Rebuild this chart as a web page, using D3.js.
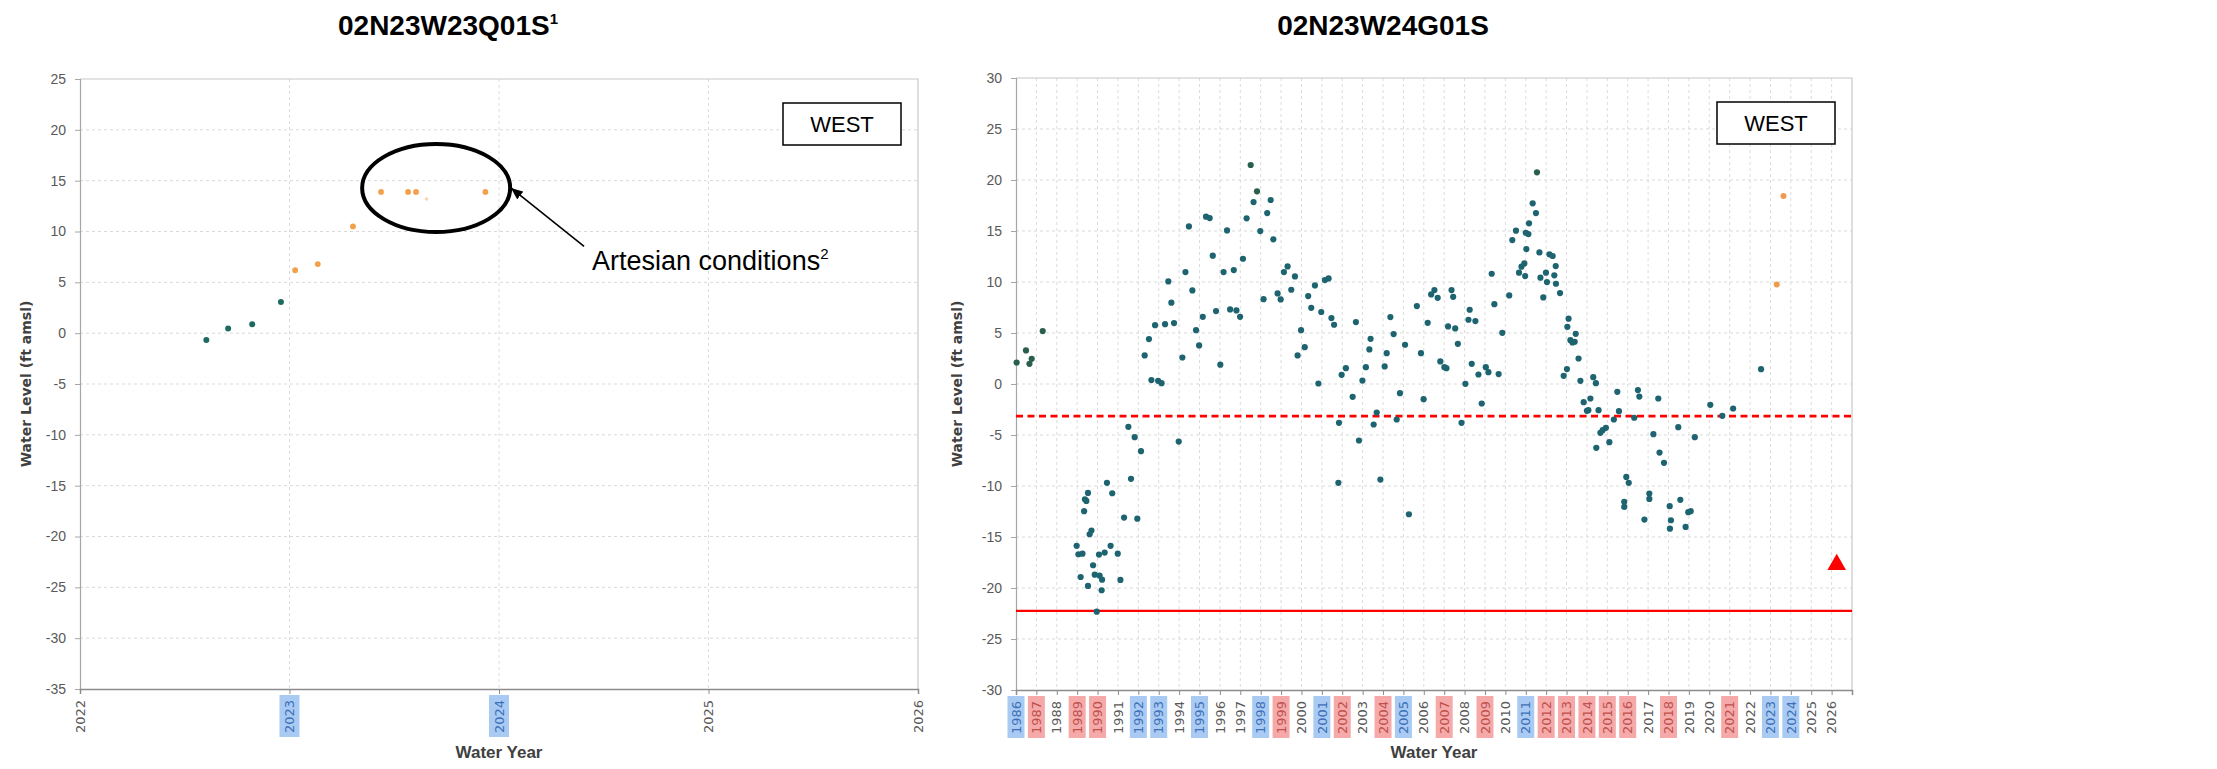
<!DOCTYPE html>
<html>
<head>
<meta charset="utf-8">
<script src="https://cdn.jsdelivr.net/npm/d3@7"></script>
<style>
  html, body { margin: 0; padding: 0; background: #ffffff; }
  svg { display: block; }
</style>
</head>
<body>
<svg id="chart" width="2217" height="769"></svg>
<script>
// ---------------- DATA ----------------
// Left well: 02N23W23Q01S
const leftTitle = "02N23W23Q01S";
const leftTealDates  = [2022.603, 2022.707, 2022.822, 2022.959];
const leftTealLevels = [-0.67, 0.45, 0.87, 3.07];
const leftOrangeDates  = [2023.027, 2023.135, 2023.303, 2023.437, 2023.566, 2023.604, 2023.935];
const leftOrangeLevels = [6.19, 6.80, 10.50, 13.89, 13.89, 13.89, 13.89];
const leftFaintDates  = [2023.654];
const leftFaintLevels = [13.2];
const leftYearTicks = [2022, 2023, 2024, 2025, 2026];
const leftLevelTicks = [-35, -30, -25, -20, -15, -10, -5, 0, 5, 10, 15, 20, 25];
const leftWetYears = [2023, 2024];
const leftDryYears = [];

// Right well: 02N23W24G01S
const rightTitle = "02N23W24G01S";
const rightGreenDates  = [1986.03, 1986.49, 1986.66, 1986.77, 1987.31, 1997.51, 1997.82, 2011.55];
const rightGreenLevels = [2.11, 3.29, 1.98, 2.47, 5.19, 21.47, 18.89, 20.75];
const rightDates = [
  1988.975, 1989.06, 1989.17, 1989.26, 1989.34, 1989.38, 1989.45, 1989.53, 1989.53, 1989.61,
  1989.70, 1989.78, 1989.86, 1989.96, 1990.07, 1990.10, 1990.20, 1990.22, 1990.35, 1990.46,
  1990.64, 1990.72, 1990.99, 1991.12, 1991.30, 1991.51, 1991.64, 1991.82, 1991.95, 1992.13,
  1992.31, 1992.52, 1992.64, 1992.82, 1992.97, 1993.14, 1993.31, 1993.47, 1993.62, 1993.75,
  1993.98, 1994.16, 1994.31, 1994.48, 1994.65, 1994.83, 1994.98, 1995.16, 1995.32, 1995.50,
  1995.65, 1995.81, 1996.02, 1996.18, 1996.35, 1996.50, 1996.68, 1996.81, 1996.99, 1997.13,
  1997.31, 1997.65, 1997.98, 1998.14, 1998.32, 1998.49, 1998.62, 1998.83, 1998.98, 1999.14,
  1999.32, 1999.50, 1999.68, 1999.81, 1999.98, 2000.16, 2000.33, 2000.48, 2000.66, 2000.83,
  2000.97, 2001.15, 2001.33, 2001.47, 2001.60, 2001.81, 2001.84, 2001.97, 2002.18, 2002.51,
  2002.67, 2002.82, 2002.99, 2003.16, 2003.33, 2003.39, 2003.54, 2003.69, 2003.87, 2004.08,
  2004.18, 2004.36, 2004.52, 2004.67, 2004.83, 2005.08, 2005.27, 2005.66, 2005.86, 2005.99,
  2006.19, 2006.36, 2006.52, 2006.68, 2006.81, 2007.01, 2007.11, 2007.19, 2007.36, 2007.44,
  2007.54, 2007.67, 2007.85, 2008.04, 2008.19, 2008.25, 2008.35, 2008.53, 2008.68, 2008.84,
  2009.04, 2009.17, 2009.33, 2009.46, 2009.67, 2009.85, 2010.19, 2010.34, 2010.52, 2010.67,
  2010.79, 2010.93, 2010.97, 2011.00, 2011.03, 2011.13, 2011.16, 2011.34, 2011.50, 2011.67,
  2011.72, 2011.86, 2011.99, 2012.04, 2012.16, 2012.32, 2012.40, 2012.47, 2012.48, 2012.68,
  2012.86, 2013.02, 2013.04, 2013.10, 2013.19, 2013.29, 2013.40, 2013.45, 2013.59, 2013.68,
  2013.84, 2014.00, 2014.07, 2014.17, 2014.31, 2014.44, 2014.46, 2014.57, 2014.66, 2014.77,
  2014.93, 2015.10, 2015.32, 2015.49, 2015.57, 2015.83, 2015.83, 2015.93, 2016.05, 2016.32,
  2016.50, 2016.57, 2016.82, 2017.06, 2017.06, 2017.26, 2017.50, 2017.56, 2017.78, 2018.06,
  2018.07, 2018.12, 2018.48, 2018.58, 2018.84, 2018.97, 2019.09, 2019.29, 2020.05, 2020.64,
  2021.17, 2022.54
];
const rightLevels = [
  -15.87, -16.69, -18.92, -16.63, -12.47, -11.30, -11.46, -10.68, -19.80, -14.73,
  -14.37, -17.77, -18.69, -22.32, -16.72, -18.78, -20.22, -19.18, -16.53, -9.69,
  -15.87, -10.71, -16.63, -19.21, -13.10, -4.20, -9.30, -5.21, -13.20, -6.59,
  2.80, 4.40, 0.38, 5.77, 0.31, 0.08, 5.87, 10.06, 7.97, 5.97,
  -5.64, 2.60, 10.97, 15.45, 9.17, 5.28, 3.78, 6.59, 16.40, 16.27,
  12.58, 7.15, 1.89, 10.97, 15.06, 7.31, 11.17, 7.21, 6.59, 12.28,
  16.24, 17.84, 14.99, 8.32, 16.76, 18.04, 14.18, 8.88, 8.29, 10.97,
  11.53, 9.24, 10.55, 2.80, 5.28, 3.61, 8.62, 7.47, 9.66, 0.05,
  7.06, 10.19, 10.35, 6.46, 5.81, -9.69, -3.81, 0.90, 1.55, -1.26,
  6.07, -5.54, 0.34, 1.65, 3.39, 4.43, -3.97, -2.80, -9.37, 1.72,
  3.02, 6.56, 4.89, -3.48, -0.90, 3.85, -12.77, 7.64, 3.02, -1.49,
  6.00, 8.78, 9.21, 8.45, 2.21, 1.65, 1.55, 5.64, 9.21, 8.55,
  5.45, 3.94, -3.81, 0.02, 6.30, 7.28, 1.98, 6.17, 0.93, -1.91,
  1.65, 1.16, 10.81, 7.83, 0.97, 5.02, 8.68, 14.11, 15.03, 10.91,
  11.50, 11.82, 10.58, 14.83, 13.23, 14.70, 15.75, 17.71, 16.76, 12.90,
  10.42, 8.49, 10.91, 9.99, 12.71, 12.55, 10.65, 11.56, 9.83, 8.91,
  0.80, 1.46, 5.61, 6.40, 4.30, 4.07, 4.14, 4.92, 2.50, 0.31,
  -1.78, -2.63, -2.57, -1.42, 0.67, 0.08, -6.26, -2.57, -4.79, -4.53,
  -4.30, -5.70, -3.48, -0.77, -2.66, -11.55, -12.05, -9.11, -9.69, -3.31,
  -0.60, -1.23, -13.29, -10.74, -11.27, -4.92, -1.42, -6.72, -7.73, -11.98,
  -14.18, -13.36, -4.23, -11.36, -14.01, -12.57, -12.47, -5.21, -2.04, -3.12,
  -2.40, 1.45
];
const rightOrangeDates  = [2023.31, 2023.64];
const rightOrangeLevels = [9.76, 18.43];
const rightDashedThreshold = -3.15;
const rightSolidThreshold  = -22.25;
const rightTargetDates  = [2026.25];
const rightTargetLevels = [-17.7];
const rightYearTicks = d3.range(1986, 2027);
const rightLevelTicks = [-30, -25, -20, -15, -10, -5, 0, 5, 10, 15, 20, 25, 30];
const rightWetYears = [1986, 1992, 1993, 1995, 1998, 2001, 2005, 2011, 2023, 2024];
const rightDryYears = [1987, 1989, 1990, 1999, 2002, 2004, 2007, 2009, 2012, 2013, 2014, 2015, 2016, 2018, 2021];

// ---------------- DRAWING ----------------
const svg = d3.select("#chart");
svg.append("rect").attr("width", 2217).attr("height", 769).attr("fill", "#ffffff");

function drawPanel(o) {
  const g = svg.append("g");
  const x = d3.scaleLinear().domain(o.xDomain).range([o.left, o.right]);
  const y = d3.scaleLinear().domain(o.yDomain).range([o.bottom, o.top]);

  // horizontal gridlines
  g.append("g").selectAll("line")
    .data(o.yTicks.filter(v => v > o.yDomain[0] && v < o.yDomain[1]))
    .join("line")
    .attr("x1", o.left).attr("x2", o.right)
    .attr("y1", d => y(d)).attr("y2", d => y(d))
    .attr("stroke", "#d9d9d9").attr("stroke-width", 1).attr("stroke-dasharray", "3,3");
  // vertical gridlines
  g.append("g").selectAll("line")
    .data(o.xTicks.filter(v => v > o.xDomain[0] && v < o.xDomain[1]))
    .join("line")
    .attr("x1", d => x(d)).attr("x2", d => x(d))
    .attr("y1", o.top).attr("y2", o.bottom)
    .attr("stroke", "#dcdcdc").attr("stroke-width", 1).attr("stroke-dasharray", "3,3");
  // plot border top / right
  g.append("path")
    .attr("d", `M${o.left},${o.top}H${o.right}V${o.bottom}`)
    .attr("fill", "none").attr("stroke", "#c8c8c8").attr("stroke-width", 1.2);

  // y axis
  const ya = g.append("g").attr("transform", `translate(${o.left},0)`)
    .call(d3.axisLeft(y).tickValues(o.yTicks).tickSize(5).tickPadding(9).tickFormat(d => String(d)));
  ya.select(".domain").attr("stroke", "#a6a6a6").attr("stroke-width", 1.2);
  ya.selectAll(".tick line").attr("stroke", "#a6a6a6");
  ya.selectAll(".tick text")
    .attr("font-family", "'Liberation Sans', Arial, sans-serif")
    .attr("font-size", 14).attr("fill", "#595959");

  // x axis
  const xa = g.append("g").attr("transform", `translate(0,${o.bottom})`)
    .call(d3.axisBottom(x).tickValues(o.xTicks).tickSize(5).tickFormat(""));
  xa.select(".domain").attr("stroke", "#8c8c8c").attr("stroke-width", 1.5);
  xa.selectAll(".tick line").attr("stroke", "#8c8c8c");

  // x labels with wet/dry highlights
  const labels = g.append("g").selectAll("g")
    .data(o.xTicks).join("g")
    .attr("transform", d => `translate(${x(d)},${o.bottom + 11}) rotate(-90)`);
  labels.filter(d => o.wet.includes(d) || o.dry.includes(d))
    .append("rect")
    .attr("x", -o.hiBottom).attr("width", o.hiBottom + 5)
    .attr("y", -o.hiW / 2).attr("height", o.hiW)
    .attr("fill", d => o.wet.includes(d) ? "#a9cbf3" : "#f5aaa9");
  labels.append("text")
    .attr("text-anchor", "end")
    .attr("dy", "0.36em")
    .attr("font-family", "'DejaVu Sans', Verdana, sans-serif")
    .attr("font-size", 13)
    .attr("fill", d => o.wet.includes(d) ? "#3d70b8" : (o.dry.includes(d) ? "#c0504d" : "#595959"))
    .text(d => String(d));

  // axis titles
  g.append("text")
    .attr("transform", `translate(${o.yTitleX},${(o.top + o.bottom) / 2}) rotate(-90)`)
    .attr("text-anchor", "middle")
    .attr("font-family", "'DejaVu Sans', Verdana, sans-serif")
    .attr("font-weight", "bold").attr("font-size", 14).attr("fill", "#404040")
    .text("Water Level (ft amsl)");
  g.append("text")
    .attr("x", (o.left + o.right) / 2).attr("y", 758)
    .attr("text-anchor", "middle")
    .attr("font-family", "'Liberation Sans', Arial, sans-serif")
    .attr("font-weight", "bold").attr("font-size", 17).attr("fill", "#404040")
    .text("Water Year");

  // chart title
  const t = g.append("text")
    .attr("x", o.titleX).attr("y", 35)
    .attr("text-anchor", "middle")
    .attr("font-family", "'Liberation Sans', Arial, sans-serif")
    .attr("font-weight", "bold").attr("font-size", 28).attr("fill", "#000000");
  t.append("tspan").text(o.title);
  if (o.titleSup) {
    t.append("tspan").attr("dy", -11).attr("font-size", 15).text(o.titleSup);
  }

  // WEST box
  const bw = 118, bh = 42;
  g.append("rect")
    .attr("x", o.right - 17 - bw).attr("y", o.top + 24)
    .attr("width", bw).attr("height", bh)
    .attr("fill", "#ffffff").attr("stroke", "#000000").attr("stroke-width", 1.5);
  g.append("text")
    .attr("x", o.right - 17 - bw / 2).attr("y", o.top + 24 + 29)
    .attr("text-anchor", "middle")
    .attr("font-family", "'Liberation Sans', Arial, sans-serif")
    .attr("font-size", 22).attr("fill", "#000000")
    .text("WEST");

  return { g, x, y };
}

// ---- Left panel ----
const L = drawPanel({
  left: 80, right: 918, top: 79, bottom: 689,
  xDomain: [2022, 2026], yDomain: [-35, 25],
  xTicks: leftYearTicks, yTicks: leftLevelTicks,
  wet: leftWetYears, dry: leftDryYears, hiW: 20, hiBottom: 37,
  yTitleX: 31, title: leftTitle, titleSup: "1", titleX: 448
});

function dots(panel, dates, levels, color, r) {
  panel.g.append("g").selectAll("circle")
    .data(d3.zip(dates, levels)).join("circle")
    .attr("cx", d => panel.x(d[0])).attr("cy", d => panel.y(d[1]))
    .attr("r", r).attr("fill", color);
}

dots(L, leftTealDates, leftTealLevels, "#1e6a60", 3);
dots(L, leftOrangeDates, leftOrangeLevels, "#f4a04a", 2.9);
dots(L, leftFaintDates, leftFaintLevels, "#fbd5ad", 1.8);

// annotation: artesian conditions
L.g.append("ellipse")
  .attr("cx", L.x(2023.70)).attr("cy", L.y(14.28))
  .attr("rx", 74).attr("ry", 44)
  .attr("fill", "none").attr("stroke", "#000000").attr("stroke-width", 4);
svg.append("defs").append("marker")
  .attr("id", "arrowHead").attr("viewBox", "0 0 12 10")
  .attr("refX", 12).attr("refY", 5)
  .attr("markerWidth", 12).attr("markerHeight", 10)
  .attr("markerUnits", "userSpaceOnUse")
  .attr("orient", "auto")
  .append("path").attr("d", "M0,0L12,5L0,10Z").attr("fill", "#000000");
L.g.append("line")
  .attr("x1", L.x(2024.406)).attr("y1", L.y(8.53))
  .attr("x2", L.x(2024.057)).attr("y2", L.y(14.28))
  .attr("stroke", "#000000").attr("stroke-width", 1.6)
  .attr("marker-end", "url(#arrowHead)");
const at = L.g.append("text")
  .attr("x", L.x(2024.444)).attr("y", L.y(6.17))
  .attr("font-family", "'Liberation Sans', Arial, sans-serif")
  .attr("font-size", 27).attr("fill", "#000000");
at.append("tspan").text("Artesian conditions");
at.append("tspan").attr("dy", -11).attr("font-size", 15).text("2");

// ---- Right panel ----
const R = drawPanel({
  left: 1016, right: 1852, top: 78, bottom: 690,
  xDomain: [1986, 2027], yDomain: [-30, 30],
  xTicks: rightYearTicks, yTicks: rightLevelTicks,
  wet: rightWetYears, dry: rightDryYears, hiW: 17, hiBottom: 37,
  yTitleX: 962, title: rightTitle, titleSup: null, titleX: 1383
});

// threshold lines
R.g.append("line")
  .attr("x1", R.x(1986)).attr("x2", R.x(2027))
  .attr("y1", R.y(rightDashedThreshold)).attr("y2", R.y(rightDashedThreshold))
  .attr("stroke", "#ff0000").attr("stroke-width", 2.6).attr("stroke-dasharray", "7,4.5");
R.g.append("line")
  .attr("x1", R.x(1986)).attr("x2", R.x(2027))
  .attr("y1", R.y(rightSolidThreshold)).attr("y2", R.y(rightSolidThreshold))
  .attr("stroke", "#ff0000").attr("stroke-width", 2.2);

dots(R, rightDates, rightLevels, "#1d6470", 3.1);
dots(R, rightGreenDates, rightGreenLevels, "#2a5f4c", 3.1);
dots(R, rightOrangeDates, rightOrangeLevels, "#f09a50", 3);

R.g.append("g").selectAll("path")
  .data(d3.zip(rightTargetDates, rightTargetLevels)).join("path")
  .attr("transform", d => `translate(${R.x(d[0])},${R.y(d[1])})`)
  .attr("d", d3.symbol(d3.symbolTriangle).size(150)())
  .attr("fill", "#ff0000");
</script>
</body>
</html>
